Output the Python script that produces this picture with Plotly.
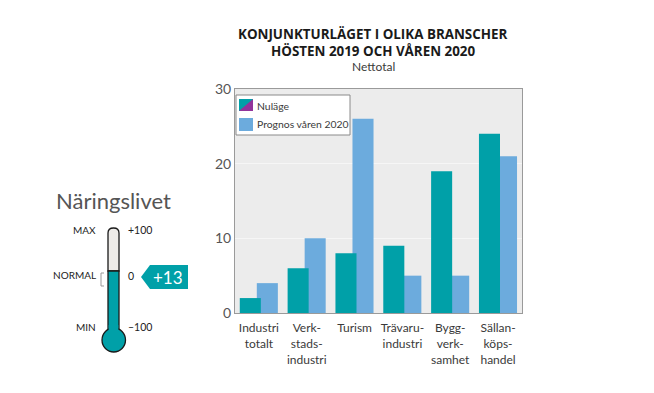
import plotly.graph_objects as go

categories = ["Industri<br>totalt", "Verk-<br>stads-<br>industri", "Turism", "Trävaru-<br>industri", "Bygg-<br>verk-<br>samhet", "Sällan-<br>köps-<br>handel"]
nulage = [2, 6, 8, 9, 19, 24]
prognos = [4, 10, 26, 5, 5, 21]
y_ticks = [0, 10, 20, 30]
TEAL = "#00A0A8"
BLUE = "#6CABDD"
PURPLE = "#92349B"
W, H = 654, 393
PAGE = 8
FONT = "Open Sans"
LIGHT = "Lato"
L, R, T, B = 235, 522, 89, 313

def px(x): return (x - L) / (R - L)
def py(y): return (B - y) / (B - T)

fig = go.Figure()
fig.add_bar(x=categories, y=prognos, name="Prognos våren 2020", marker_color=BLUE, marker_line_width=0,
            width=0.44, offset=-0.044)
fig.add_bar(x=categories, y=nulage, name="Nuläge", marker_color=TEAL, marker_line_width=0,
            width=0.44, offset=-0.40)

shapes = []
def rect(x0, y0, x1, y1, fill, line=None, lw=1):
    shapes.append(dict(type="rect", xref="paper", yref="paper", x0=px(x0), x1=px(x1), y0=py(y0), y1=py(y1),
                       fillcolor=fill, line=dict(color=line or fill, width=lw if line else 0), layer="above"))
def path(points, fill, line=None, lw=1):
    d = "M " + " L ".join(f"{px(a):.5f},{py(b):.5f}" for a, b in points) + " Z"
    shapes.append(dict(type="path", xref="paper", yref="paper", path=d, fillcolor=fill,
                       line=dict(color=line or fill, width=lw if line else 0), layer="above"))

# legend box
rect(236, 95, 350, 135, "white", "#8a8a8a", 1)
rect(239, 99, 253, 111, TEAL)
path([(239, 111), (253, 111), (253, 99)], PURPLE)
rect(239, 118, 253, 131, BLUE)

# thermometer
TX0, TX1 = 108, 119
DARK = "#1a1a1a"
shapes.append(dict(type="path", xref="paper", yref="paper", layer="above", fillcolor="#EEECE9",
                   line=dict(color=DARK, width=1.3),
                   path=(f"M {px(TX0)},{py(271)} L {px(TX0)},{py(233)} "
                         f"Q {px(TX0)},{py(228)} {px(113.5)},{py(228)} "
                         f"Q {px(TX1)},{py(228)} {px(TX1)},{py(233)} L {px(TX1)},{py(271)} Z")))
rect(TX0, 271, TX1, 333, TEAL, DARK, 1.3)
shapes.append(dict(type="circle", xref="paper", yref="paper", x0=px(102), x1=px(125.5), y0=py(352), y1=py(328),
                   fillcolor=TEAL, line=dict(color=DARK, width=1.3), layer="above"))
rect(TX0 + 0.7, 325, TX1 - 0.7, 337, TEAL)
# normal bracket
shapes.append(dict(type="path", xref="paper", yref="paper", layer="above",
                   path=f"M {px(104)},{py(273)} L {px(101)},{py(273)} L {px(101)},{py(286)} L {px(104)},{py(286)}",
                   line=dict(color="#999999", width=1)))
# value tag
path([(141, 277), (150, 265), (188, 265), (188, 289), (150, 289)], TEAL)

def text(x, y, s, size, color="#3a3a3a", anchor="center", bold=False, family=FONT):
    fig.add_annotation(x=px(x), y=py(y), xref="paper", yref="paper", text=f"<b>{s}</b>" if bold else s,
                       showarrow=False, xanchor=anchor, yanchor="middle",
                       font=dict(size=size, color=color, family=family), borderpad=0, borderwidth=0)

text(373, 34, "KONJUNKTURLÄGET I OLIKA BRANSCHER", 13.4, "#1a1a1a", bold=True)
text(373, 51, "HÖSTEN 2019 OCH VÅREN 2020", 13.4, "#1a1a1a", bold=True)
text(373, 67, "Nettotal", 12, family=LIGHT)
text(257, 106, "Nuläge", 10.4, anchor="left", family=LIGHT)
text(257, 124, "Prognos våren 2020", 10.4, anchor="left", family=LIGHT)
text(113, 200, "Näringslivet", 22, "#555555", family=LIGHT)
text(96, 230, "MAX", 10, "#222222", anchor="right", family=LIGHT)
text(96, 275, "NORMAL", 10, "#222222", anchor="right", family=LIGHT)
text(96, 327, "MIN", 10, "#222222", anchor="right", family=LIGHT)
text(128, 230, "+100", 10.5, "#222222", anchor="left", family=LIGHT)
text(128, 276, "0", 10.5, "#222222", anchor="left", family=LIGHT)
text(128, 327, "–100", 10.5, "#222222", anchor="left", family=LIGHT)
text(168, 277, "+13", 17, "white", family=LIGHT)

fig.update_layout(
    width=W - 2 * PAGE, height=H - 2 * PAGE, autosize=False,
    margin=dict(l=L - PAGE, r=W - PAGE - R, t=T - PAGE, b=H - PAGE - B, pad=0),
    paper_bgcolor="white", plot_bgcolor="#ECECEC",
    barmode="overlay",
    showlegend=False, shapes=shapes,
    font=dict(family=LIGHT, size=12, color="#3a3a3a"),
    xaxis=dict(showgrid=False, ticks="", tickfont=dict(size=12), ticklabelstandoff=4,
               showline=True, linecolor="#9a9a9a", mirror=True),
    yaxis=dict(range=[0, 30], tickvals=y_ticks, ticks="", tickfont=dict(size=14, color="#555555"), showline=True,
               linecolor="#9a9a9a", mirror=True, gridcolor="#F6F6F6", gridwidth=1, zeroline=False),
)
fig.write_html("out.html")
